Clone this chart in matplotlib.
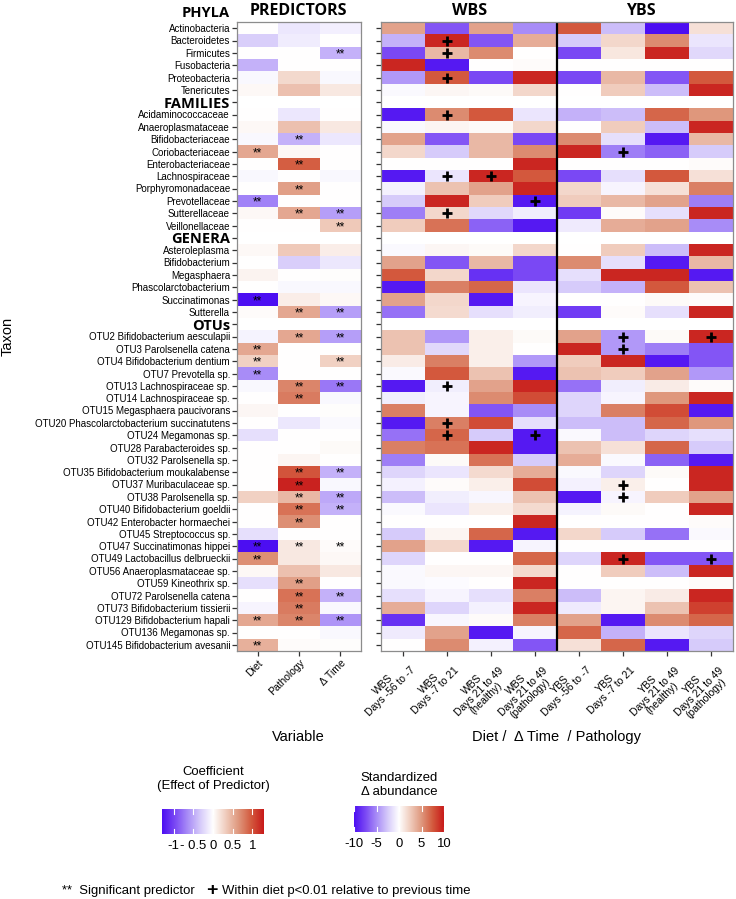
import numpy as np
import matplotlib
matplotlib.use('Agg')
from matplotlib import pyplot as plt
from matplotlib import font_manager
from matplotlib.colors import LinearSegmentedColormap

plt.rcParams['font.family'] = ['Liberation Sans', 'DejaVu Sans']

# narrow face for the ggplot-style legend text, if there is one
installed = {f.name for f in font_manager.fontManager.ttflist}
NARROW = 'Liberation Sans Narrow' in installed

# ---- data ----
taxa = ['Actinobacteria', 'Bacteroidetes', 'Firmicutes', 'Fusobacteria',
        'Proteobacteria', 'Tenericutes',
        'FAMILIES',
        'Acidaminococcaceae', 'Anaeroplasmataceae', 'Bifidobacteriaceae',
        'Coriobacteriaceae', 'Enterobacteriaceae', 'Lachnospiraceae',
        'Porphyromonadaceae', 'Prevotellaceae', 'Sutterellaceae',
        'Veillonellaceae',
        'GENERA',
        'Asteroleplasma', 'Bifidobacterium', 'Megasphaera',
        'Phascolarctobacterium', 'Succinatimonas', 'Sutterella',
        'OTUs',
        'OTU2 Bifidobacterium aesculapii', 'OTU3 Parolsenella catena',
        'OTU4 Bifidobacterium dentium', 'OTU7 Prevotella sp.',
        'OTU13 Lachnospiraceae sp.', 'OTU14 Lachnospiraceae sp.',
        'OTU15 Megasphaera paucivorans',
        'OTU20 Phascolarctobacterium succinatutens', 'OTU24 Megamonas sp.',
        'OTU28 Parabacteroides sp.', 'OTU32 Parolsenella sp.',
        'OTU35 Bifidobacterium moukalabense', 'OTU37 Muribaculaceae sp.',
        'OTU38 Parolsenella sp.', 'OTU40 Bifidobacterium goeldii',
        'OTU42 Enterobacter hormaechei', 'OTU45 Streptococcus sp.',
        'OTU47 Succinatimonas hippei', 'OTU49 Lactobacillus delbrueckii',
        'OTU56 Anaeroplasmataceae sp.', 'OTU59 Kineothrix sp.',
        'OTU72 Parolsenella catena', 'OTU73 Bifidobacterium tissierii',
        'OTU129 Bifidobacterium hapali', 'OTU136 Megamonas sp.',
        'OTU145 Bifidobacterium avesanii']
headers = ['FAMILIES', 'GENERA', 'OTUs']

predictors = ['Diet', 'Pathology', '\u0394 Time']
periods = ['WBS\nDays -56 to -7', 'WBS\nDays -7 to 21',
           'WBS\nDays 21 to 49\n(healthy)', 'WBS\nDays 21 to 49\n(pathology)',
           'YBS\nDays -56 to -7', 'YBS\nDays -7 to 21',
           'YBS\nDays 21 to 49\n(healthy)', 'YBS\nDays 21 to 49\n(pathology)']

# coefficient per taxon: Diet, Pathology, Delta Time (None = header row)
coef = [
    [0, -0.15, -0.1], [-0.3, -0.12, 0], [0, 0, -0.45], [-0.45, 0, 0],
    [-0.05, 0.25, -0.05], [0.05, 0.4, 0.15],
    None,
    [0, -0.15, 0], [0.05, 0.4, 0.15], [-0.05, -0.45, -0.15], [0.55, 0.05, 0],
    [0, 0.95, 0], [-0.05, 0, -0.05], [0, 0.6, 0], [-0.7, 0, 0],
    [0.05, 0.55, -0.55], [0, 0, 0.35],
    None,
    [0.05, 0.35, 0.12], [0, -0.3, -0.15], [0.08, 0, 0.02], [0, -0.05, -0.05],
    [-1.3, 0.12, 0.05], [0.03, 0.55, -0.55],
    None,
    [-0.08, 0.55, -0.55], [0.55, 0, 0], [0.3, 0, 0.3], [-0.65, 0, 0],
    [-0.05, 0.75, -0.75], [0, 0.8, -0.05], [0.06, 0, 0.02], [0, -0.15, -0.04],
    [-0.2, 0, 0], [0, 0, 0.04], [0, 0.07, 0], [0, 1.0, -0.45],
    [0, 1.25, -0.05], [0.3, 0.45, -0.5], [0, 0.85, -0.45], [0, 0.7, 0],
    [-0.2, 0, 0], [-1.3, 0.15, 0.03], [0.7, 0.15, 0.05], [0.05, 0.4, 0.15],
    [-0.2, 0.6, 0], [0, 0.85, -0.45], [-0.07, 0.8, -0.05], [0.55, 0.75, -0.6],
    [0, 0, -0.05], [0.5, 0.03, 0.02]]

# standardized delta abundance per taxon, 8 diet/period columns
delta = [
    [4.5, -7, 4.5, -5, 7.5, -3, -10, 1.5],
    [-3.5, 9.5, -7, 4, -2.5, 2, 5.5, -1.2],
    [-7.5, 3.5, 5.5, 0, -7.5, 1.2, 9.5, -1.8],
    [9.5, -9.5, 0, 0.2, 0, 0, 0, 0],
    [-4.5, 7.5, -7.5, 9.5, -7.5, 3.5, -7, 7.5],
    [-0.3, 0.4, 0.3, 2, 0, 2.5, -3, 9.5],
    None,
    [-9.5, 5.5, 7.5, -1.2, -3.5, -3, 7, 5],
    [-0.3, 0.5, 0.3, 2, 0, 2.5, -3, 9.5],
    [4.5, -7, 3.5, -7.5, 5.5, -1.5, -9.5, 3.5],
    [2, -2.5, 3.5, 5.5, 9.5, -5.5, -6.5, -2.5],
    [0, 0, 0, 9.5, 0, 0, 0, 0.2],
    [-9.5, -1.2, 9.5, 7.5, -7.5, -1.5, 7.5, 1.5],
    [-0.7, 3, 4.5, 9.5, 2, -0.5, 1.5, 6],
    [-2.5, 9.5, 2.5, -9.5, 2.5, 3.5, 4.5, -5.5],
    [-5.5, 2, -1.8, -0.8, -8, 0.2, -1.5, 9.5],
    [2.5, 6.5, -6.5, -9.5, -1, 4, 4.5, -5],
    None,
    [-0.3, 0.4, 0.3, 2, 0, 2.5, -3, 9.5],
    [4.5, -7, 3.5, -7.5, 5.5, -1.5, -9.5, 3.5],
    [7.5, 2, -8.5, -7.5, -1.5, 9.5, 9.5, -9.5],
    [-9.5, 6, 7, -1.2, -2.5, -3.5, 7.5, 3],
    [4.5, 2, -9.5, -0.5, 0, 0, 0.3, 0.2],
    [-6, 1.8, -1.5, -0.8, -8, 0.2, -1.5, 9.5],
    None,
    [3, -4.5, 0.8, 0.3, 4.5, -4.5, 0.3, 9.5],
    [3, -1.8, 0.8, 0, 9.5, -4.5, -5.5, -7],
    [1, 6, 0.8, -4.5, 2.5, 9.5, -9.5, -7],
    [-0.3, 7.5, 3, -9.5, 3, 2.5, 4.5, -4.5],
    [-9.5, -0.8, 4.5, 9.5, -6, -0.8, 1, 0.2],
    [-0.8, -0.5, 5.5, 8, -2, -0.5, 5, 9.5],
    [6, -0.5, -7, -5, -2, 6, 8, -9.5],
    [-9.5, 6, 8, -1.5, -3, -3, 7, 5],
    [-6, 7, -2.5, -9.5, -0.3, -3, -2, -1.5],
    [6, 6.5, 9.5, -9.5, 3, 1.5, 7, -2.5],
    [-5.5, 0.3, 6.5, -2.5, 4, -0.3, -6.5, -9.5],
    [-2, -1.2, 1.8, 4, -0.3, -2, 0.3, 9.5],
    [-0.7, 0.2, 0.8, 8, -0.7, 0.8, 0, 9.5],
    [-3, -0.8, -0.4, 3, -9.5, -0.5, 2.5, 4.5],
    [-0.3, -1.2, 0.8, 1.8, -0.6, 0.3, 0, 9.5],
    [0, 0, 0, 9.5, 0, 0, 0, 0.2],
    [-2.5, 0.5, 7, -9.5, 2, -2.5, -6, -0.3],
    [4.5, 2, -9.5, -0.5, 0, 0, 0, 0],
    [-2, 0, 0, 7, -2, 9.5, -7, -7],
    [-0.3, 0.4, 0.4, 1.8, 0, 2.5, -3, 9.5],
    [-0.3, -0.2, 0, 9.5, 0, 0, 0, 0.2],
    [-1.5, -0.5, -1.5, 6, -3, 0.5, 1, 9.5],
    [4, -2, -0.7, 9.5, -1, 0.5, 3, 8.5],
    [-8.5, -0.4, 0.2, 6, 4.5, -9.5, 5.5, 7],
    [-1, 4.5, -9.5, -0.5, 7, -3.5, -1.2, -2],
    [0, 5.5, -0.7, -7, 1.5, 7, -9.5, -2.5]]

# significant predictors (row indices into taxa)
stars_diet = [10, 14, 22, 26, 27, 28, 42, 43, 48, 50]
stars_path = [9, 11, 13, 15, 23, 25, 29, 30, 36, 37, 38, 39, 40, 42, 45,
              46, 47, 48]
stars_time = [2, 15, 16, 23, 25, 27, 29, 36, 38, 39, 42, 46, 48]

# within diet p<0.01 relative to previous time (column -> rows)
plus_marks = {1: [1, 2, 4, 7, 12, 15, 29, 32, 33], 2: [12], 3: [14, 33],
              5: [10, 25, 26, 37, 38, 43], 7: [25, 43]}

coef_lim = 1.3
delta_lim = 10

# ---- figure ----
W, H = 736, 899
fig = plt.figure(figsize=(W / 100, H / 100), dpi=100)


def px_axes(x0, y0, x1, y1):
    return fig.add_axes([x0 / W, 1 - y1 / H, (x1 - x0) / W, (y1 - y0) / H])


def narrow(size):
    # ggplot legend text is a condensed face; shrink a bit when it is missing
    if NARROW:
        return dict(fontfamily='Liberation Sans Narrow', fontsize=size)
    return dict(fontsize=size * 0.86)


cmap = LinearSegmentedColormap.from_list('bwr_lab', [
    (0.0, '#4C0EF2'), (0.125, '#7A48F4'), (0.25, '#A88CF7'),
    (0.375, '#D6CAFA'), (0.5, '#FFFFFF'), (0.625, '#F0CDBE'),
    (0.75, '#DF987E'), (0.875, '#D35A3E'), (1.0, '#C81A1A')])
cmap.set_bad('white')

n = len(taxa)
C = np.array([[np.nan] * 3 if r is None else r for r in coef], dtype=float)
D = np.array([[np.nan] * 8 if r is None else r for r in delta], dtype=float)

spine_col = '#8c8c8c'
tick_kw = dict(length=3.5, width=0.9, color='#333333', pad=1.5)

# left panel: predictors
ax1 = px_axes(237, 22, 361, 651)
ax1.pcolormesh(np.arange(4), np.arange(n + 1), C, cmap=cmap,
               vmin=-coef_lim, vmax=coef_lim)
ax1.set_ylim(n, 0)
ax1.set_xlim(0, 3)
ax1.set_yticks(np.arange(n) + 0.5)
ax1.set_yticklabels(taxa)
for lab in ax1.get_yticklabels():
    if lab.get_text() in headers:
        lab.set_fontfamily('Open Sans')
        lab.set_fontweight('bold')
        lab.set_fontsize(10.5)
    else:
        lab.set_fontsize(7)
ax1.set_xticks(np.arange(3) + 0.5)
ax1.set_xticklabels(predictors, rotation=45, ha='right', va='top',
                    rotation_mode='anchor', fontsize=7.5)
ax1.tick_params(axis='both', **tick_kw)
for c, rows in enumerate([stars_diet, stars_path, stars_time]):
    for r in rows:
        ax1.text(c + 0.5, r + 0.62, '**', ha='center', va='center',
                 fontsize=8.5, color='black')
ax1.text(-0.055, -0.75, 'PHYLA', transform=ax1.get_yaxis_transform(),
         ha='right', va='center', fontsize=10.5, fontweight='bold',
         fontfamily='Open Sans', clip_on=False)
fig.text(8 / W, 1 - 336 / H, 'Taxon', rotation=90, ha='center', va='center',
         fontsize=10.5)
fig.text(298 / W, 1 - 737 / H, 'Variable', ha='center', va='center',
         fontsize=10.5)

# right panel: WBS / YBS changes
ax2 = px_axes(381, 22, 733, 651)
ax2.pcolormesh(np.arange(9), np.arange(n + 1), D, cmap=cmap,
               vmin=-delta_lim, vmax=delta_lim)
ax2.set_ylim(n, 0)
ax2.set_xlim(0, 8)
ax2.axvline(4, color='black', lw=1.6)
ax2.set_yticks(np.arange(n) + 0.5)
ax2.set_yticklabels([])
ax2.set_xticks(np.arange(8) + 0.5)
ax2.set_xticklabels(periods, rotation=45, ha='right', va='top',
                    rotation_mode='anchor', fontsize=7.5,
                    multialignment='center', linespacing=1.0)
ax2.tick_params(axis='both', **tick_kw)
px, py = [], []
for c, rows in plus_marks.items():
    for r in rows:
        px.append(c + 0.5)
        py.append(r + 0.5)
ax2.scatter(px, py, marker='+', s=45, linewidths=2.0, color='black',
            zorder=3)
fig.text(557 / W, 1 - 737 / H, 'Diet /  \u0394 Time  / Pathology',
         ha='center', va='center', fontsize=10.5)

for ax in (ax1, ax2):
    for s in ax.spines.values():
        s.set_color(spine_col)
        s.set_linewidth(0.9)

# panel titles
for x, t in [(298, 'PREDICTORS'), (470, 'WBS'), (641, 'YBS')]:
    fig.text(x / W, 1 - 11 / H, t, ha='center', va='center', fontsize=11.5,
             fontweight='bold', fontfamily='Open Sans')


# colour bars
def colorbar(x0, y0, x1, y1, lim, ticks, labels, title, ty):
    cax = px_axes(x0, y0, x1, y1)
    grad = np.linspace(-lim, lim, 256)[None, :]
    cax.imshow(grad, cmap=cmap, vmin=-lim, vmax=lim, aspect='auto',
               extent=(-lim, lim, 0, 1))
    for t in ticks:
        cax.plot([t, t], [0, 0.2], color='white', lw=0.8)
        cax.plot([t, t], [0.8, 1], color='white', lw=0.8)
    cax.set_xlim(-lim, lim)
    cax.set_ylim(0, 1)
    cax.set_yticks([])
    cax.set_xticks(ticks)
    cax.set_xticklabels(labels, **narrow(11))
    cax.tick_params(axis='x', length=0, pad=4)
    for s in cax.spines.values():
        s.set_visible(False)
    fig.text((x0 + x1) / 2 / W, 1 - ty / H, title, ha='center', va='center',
             linespacing=1.25, **narrow(11))


colorbar(162, 809, 264, 834, coef_lim, [-1, -0.5, 0, 0.5, 1],
         ['-1', '- 0.5', '0', '0.5', '1'],
         'Coefficient\n(Effect of Predictor)', 779)
colorbar(354, 806, 444, 832, delta_lim, [-10, -5, 0, 5, 10],
         ['-10', '-5', '0', '5', '10'],
         'Standardized\n\u0394 abundance', 785)

# bottom key, laid out left to right from measured text widths
renderer = fig.canvas.get_renderer()
key_y = 1 - 891 / H
k1 = fig.text(0, key_y, '**  Significant predictor', ha='left', va='center',
              **narrow(11))
k2 = fig.text(0, key_y + 1 / H, '+', ha='left', va='center', fontsize=14,
              fontweight='bold')
k3 = fig.text(0, key_y, 'Within diet p<0.01 relative to previous time',
              ha='left', va='center', **narrow(11))
w1 = k1.get_window_extent(renderer).width
w2 = k2.get_window_extent(renderer).width
w3 = k3.get_window_extent(renderer).width
gap_a, gap_b = 12, 4
total = w1 + gap_a + w2 + gap_b + w3
x = 266 - total / 2
k1.set_x(x / W)
k2.set_x((x + w1 + gap_a) / W)
k3.set_x((x + w1 + gap_a + w2 + gap_b) / W)

fig.savefig('out.png', dpi=100)
